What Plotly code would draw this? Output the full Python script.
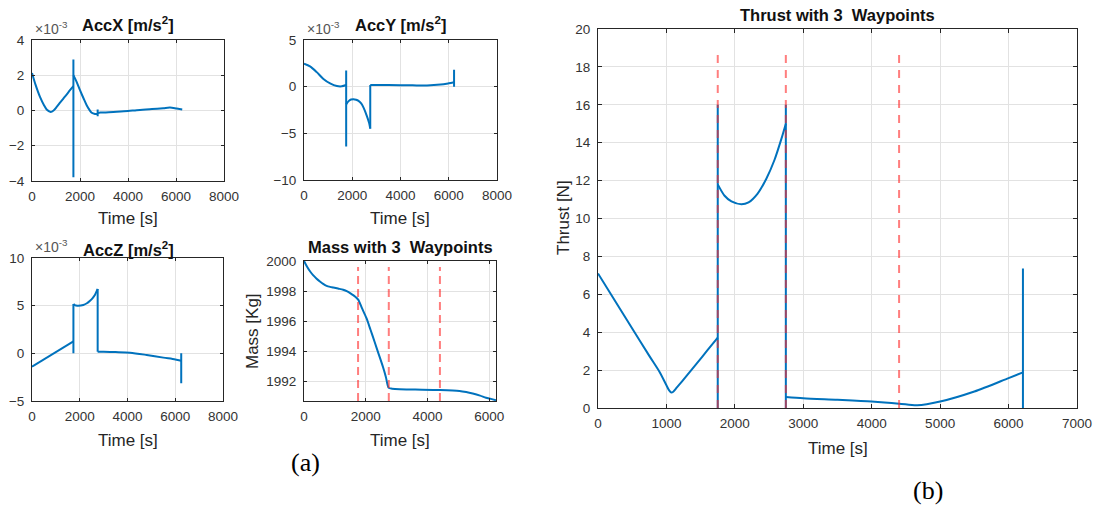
import plotly.graph_objects as go

W, H = 1100, 508

# ---------------- data ----------------
waypoints_t = [1750, 2745, 4400]

accx_t = [0, 150, 333, 500, 611, 778, 900, 1028, 1150, 1305, 1450, 1583, 1725, 1725, 1725, 1725,
          1850, 2000, 2150, 2278, 2400, 2486, 2625, 2736, 2736, 2736, 2736, 2850, 3390,
          4000, 4360, 5000, 5470, 5750, 6030, 6260]
accx_v = [2.13, 1.45, 0.77, 0.3, 0.06, -0.08, 0.0, 0.2, 0.42, 0.68, 0.92, 1.15, 1.38, -3.79, 2.89, 2.0,
          1.65, 1.15, 0.68, 0.3, 0.02, -0.13, -0.2, -0.2, -0.32, 0.05, -0.14, -0.12, -0.08,
          -0.03, 0.02, 0.08, 0.13, 0.17, 0.11, 0.06]

accy_t = [0, 250, 527, 804, 1082, 1360, 1567, 1748, 1748, 1748, 1748, 1850, 1950, 2052, 2160,
          2260, 2370, 2468, 2607, 2700, 2746, 2746, 3000, 3995, 4500, 5100, 5660, 6000, 6220,
          6220, 6220]
accy_v = [2.46, 2.17, 1.56, 0.83, 0.36, 0.07, 0.04, 0.18, -6.4, 1.74, -1.9, -1.55, -1.38, -1.34, -1.4,
          -1.52, -1.8, -2.25, -3.15, -3.9, -4.49, 0.18, 0.18, 0.16, 0.14, 0.12, 0.22, 0.36, 0.47,
          0.0, 1.8]

accz_t = [0, 1735, 1735, 1735, 1790, 1900, 2150, 2300, 2430, 2540, 2640, 2750, 2750, 3000,
          3500, 4106, 4804, 5503, 6000, 6250, 6250, 6250]
accz_v = [-1.4, 1.26, 0.0, 5.17, 5.05, 5.0, 5.07, 5.25, 5.52, 5.8, 6.15, 6.75, 0.17, 0.16,
          0.13, 0.07, -0.17, -0.45, -0.64, -0.77, 0.0, -3.15]

mass_t = [0, 100, 200, 301, 400, 516, 620, 731, 846, 946, 1100, 1269, 1400, 1538, 1650, 1753,
          1880, 2022, 2150, 2290, 2420, 2559, 2650, 2742, 2850, 3097, 3600, 4387, 5032, 5250,
          5462, 5700, 5892, 6050, 6215]
mass_v = [2000.0, 1999.62, 1999.3, 1999.04, 1998.84, 1998.64, 1998.48, 1998.35, 1998.28, 1998.24,
          1998.17, 1998.09, 1997.98, 1997.8, 1997.64, 1997.43, 1996.85, 1996.2, 1995.45, 1994.6,
          1993.8, 1992.94, 1992.3, 1991.57, 1991.52, 1991.48, 1991.46, 1991.43, 1991.37, 1991.3,
          1991.2, 1991.06, 1990.92, 1990.84, 1990.75]

thrust_t = [0, 250, 500, 750, 900, 1000, 1040, 1070, 1100, 1150, 1300, 1450, 1600, 1750, 1750,
            1750, 1750, 1850, 1950, 2095, 2200, 2330, 2460, 2580, 2680, 2745, 2745, 2745, 2745,
            3000, 3500, 4000, 4400, 4665, 5000, 5500, 6000, 6210, 6210, 6210]
thrust_v = [7.1, 5.65, 4.2, 2.75, 1.9, 1.2, 0.93, 0.82, 0.86, 1.07, 1.72, 2.38, 3.05, 3.72, 0.0,
            16.0, 11.8, 11.2, 10.9, 10.75, 10.85, 11.3, 12.1, 13.1, 14.2, 15.0, 16.0, 0.0, 0.58,
            0.51, 0.43, 0.34, 0.23, 0.14, 0.34, 0.87, 1.58, 1.88, 0.0, 7.36]

mass_wp_y = [1990.7, 1999.6]
thrust_wp_y = [0, 19]

# ---------------- styling ----------------
BLUE = "#0072BD"
RED = "rgba(255,40,40,0.6)"
AX = "#262626"
GRID = "#e2e2e2"
TICKC = "#333333"
FONT = "Liberation Sans, Arial, sans-serif"


def dx(a, b):
    return [a / W, b / W]


def dy(top, bottom):
    return [1 - bottom / H, 1 - top / H]


def px(x):
    return x / W


def py(y):
    return 1 - y / H


fig = go.Figure()


def add_series(t, v, xa, ya):
    """Smooth (spline) runs where time increases; straight vertical jumps where time repeats."""
    runs = []
    cur_kind, cur = None, []
    for i in range(len(t) - 1):
        kind = "v" if t[i + 1] == t[i] else "c"
        if kind != cur_kind:
            if cur:
                runs.append((cur_kind, cur))
            cur_kind, cur = kind, [i]
        cur.append(i + 1)
    if cur:
        runs.append((cur_kind, cur))
    for kind, idx in runs:
        fig.add_trace(go.Scatter(
            x=[t[j] for j in idx], y=[v[j] for j in idx], mode="lines",
            xaxis=xa, yaxis=ya,
            line=dict(color=BLUE, width=2,
                      shape="spline" if (kind == "c" and len(idx) > 2) else "linear",
                      smoothing=0.8),
            showlegend=False, hoverinfo="skip"))


add_series(accx_t, accx_v, "x", "y")
add_series(accy_t, accy_v, "x2", "y2")
add_series(accz_t, accz_v, "x3", "y3")
add_series(mass_t, mass_v, "x4", "y4")
add_series(thrust_t, thrust_v, "x5", "y5")


def wp_trace(ylims, xa, ya, dash):
    xs, ys = [], []
    for w in waypoints_t:
        xs += [w, w, None]
        ys += [ylims[0], ylims[1], None]
    return go.Scatter(x=xs, y=ys, mode="lines", xaxis=xa, yaxis=ya,
                      line=dict(color=RED, width=2, dash=dash), showlegend=False,
                      hoverinfo="skip")


fig.add_trace(wp_trace(mass_wp_y, "x4", "y4", "8px,5px"))
fig.add_trace(wp_trace(thrust_wp_y, "x5", "y5", "8px,7px"))


def axis(domain, rng, anchor, letter, ticklen=3, **kw):
    d = dict(domain=domain, range=rng, anchor=anchor, showline=True, linecolor=AX,
             linewidth=1, mirror="allticks", ticks="inside", ticklen=ticklen,
             tickcolor=AX, tickwidth=1, showgrid=True, gridcolor=GRID, gridwidth=1,
             zeroline=False, automargin=False,
             ticklabelstandoff=3 if letter == "x" else 4,
             tickfont=dict(family=FONT, size=13.5, color=TICKC))
    d.update(kw)
    return d


layout = dict(
    width=W, height=H, margin=dict(l=0, r=0, t=0, b=0, pad=0),
    paper_bgcolor="white", plot_bgcolor="white",
    font=dict(family=FONT),
    xaxis=axis(dx(32, 224), [0, 8000], "y", "x", tickvals=[0, 2000, 4000, 6000, 8000]),
    yaxis=axis(dy(40, 181), [-4, 4], "x", "y", tickvals=[-4, -2, 0, 2, 4]),
    xaxis2=axis(dx(304, 497), [0, 8000], "y2", "x", tickvals=[0, 2000, 4000, 6000, 8000]),
    yaxis2=axis(dy(40, 180), [-10, 5], "x2", "y", tickvals=[-10, -5, 0, 5]),
    xaxis3=axis(dx(32, 223), [0, 8000], "y3", "x", tickvals=[0, 2000, 4000, 6000, 8000]),
    yaxis3=axis(dy(258, 401), [-5, 10], "x3", "y", tickvals=[-5, 0, 5, 10]),
    xaxis4=axis(dx(304, 496), [0, 6215], "y4", "x", tickvals=[0, 2000, 4000, 6000]),
    yaxis4=axis(dy(261, 401), [1990.7, 2000], "x4", "y", tickvals=[1992, 1994, 1996, 1998, 2000]),
    xaxis5=axis(dx(598, 1077), [0, 7000], "y5", "x", ticklen=4,
                tickvals=[0, 1000, 2000, 3000, 4000, 5000, 6000, 7000]),
    yaxis5=axis(dy(29, 408), [0, 20], "x5", "y", ticklen=4,
                tickvals=list(range(0, 21, 2))),
)
fig.update_layout(**layout)

ann = []


def text(x, y, s, size=14, color="#111111", bold=False, xanchor="center",
         yanchor="middle", angle=0, family=FONT):
    if bold:
        s = "<b>" + s + "</b>"
    ann.append(dict(x=px(x), y=py(y), xref="paper", yref="paper", text=s, showarrow=False,
                    xanchor=xanchor, yanchor=yanchor, textangle=angle,
                    font=dict(family=family, size=size, color=color)))


# titles
text(128, 24, "AccX [m/s<sup>2</sup>]", 16.5, bold=True)
text(400, 24, "AccY [m/s<sup>2</sup>]", 16.5, bold=True)
text(128, 249, "AccZ [m/s<sup>2</sup>]", 16.5, bold=True)
text(400, 247, "Mass with 3\u00a0 Waypoints", 16.5, bold=True)
text(837, 15, "Thrust with 3\u00a0 Waypoints", 16.5, bold=True)

# exponents
for x0, y0 in [(33, 39), (305, 39), (33, 257)]:
    text(x0, y0, "\u00d710<sup>-3</sup>", 14, color="#555555", xanchor="left", yanchor="bottom")

# axis titles
for xc, yc in [(128, 218), (400, 218), (128, 440), (400, 440), (838, 448)]:
    text(xc, yc, "Time [s]", 17, color="#262626")
text(252, 331, "Mass [Kg]", 17, color="#262626", angle=-90)
text(563, 218, "Thrust [N]", 17, color="#262626", angle=-90)

# panel labels
text(305, 462, "(a)", 26, color="#000000", family="Liberation Serif, Times New Roman, serif")
text(928, 490, "(b)", 26, color="#000000", family="Liberation Serif, Times New Roman, serif")

fig.update_layout(annotations=ann)

fig.write_html("out.html", config=dict(displayModeBar=False, staticPlot=True),
               post_script="document.body.style.margin='0';")
